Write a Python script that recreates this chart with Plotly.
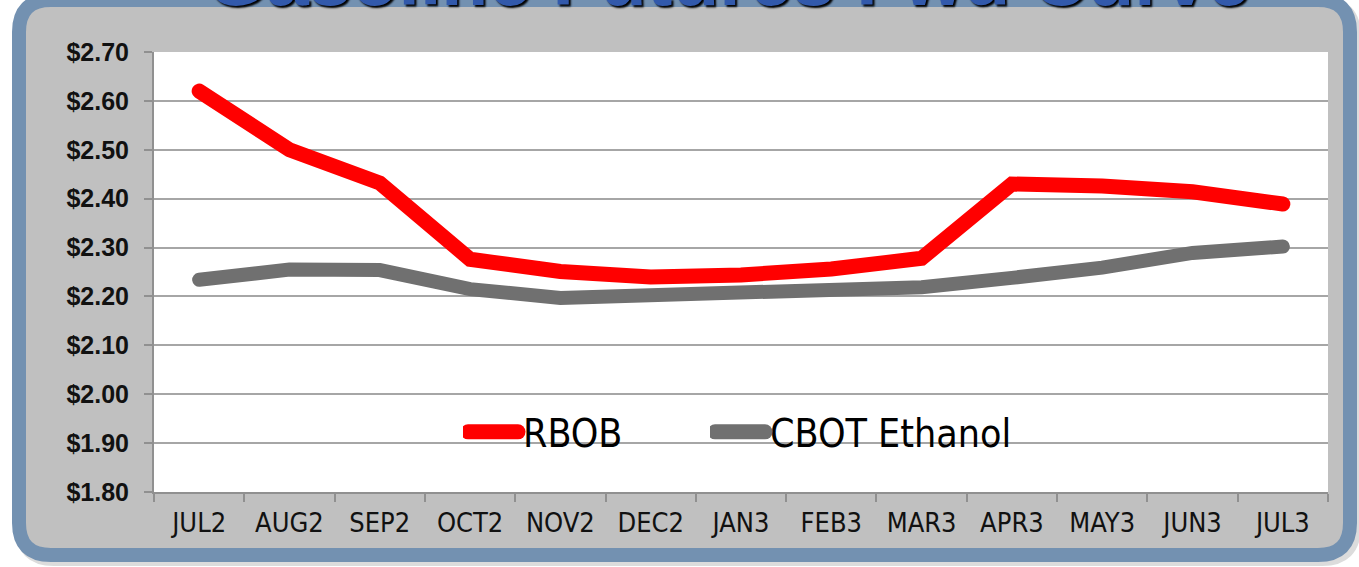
import plotly.graph_objects as go

months = ["JUL2", "AUG2", "SEP2", "OCT2", "NOV2", "DEC2", "JAN3",
          "FEB3", "MAR3", "APR3", "MAY3", "JUN3", "JUL3"]
rbob = [2.620, 2.500, 2.432, 2.276, 2.251, 2.240, 2.244,
        2.256, 2.278, 2.430, 2.426, 2.414, 2.389]
ethanol = [2.234, 2.255, 2.254, 2.215, 2.197, 2.203, 2.213,
           2.216, 2.219, 2.238, 2.259, 2.289, 2.302]
y_ticks = [1.80, 1.90, 2.00, 2.10, 2.20, 2.30, 2.40, 2.50, 2.60, 2.70]
title_text = "Gasoline Futures Fwd Curve"

W, H = 1359, 567
L, R, T, B = 154, 1328, 52, 492


def px(x):
    return (x - L) / (R - L)


def py(y):
    return (B - y) / (B - T)


def rounded_rect(x0, y0, x1, y1, r):
    pts = [
        f"M {px(x0 + r)},{py(y0)}",
        f"L {px(x1 - r)},{py(y0)}",
        f"Q {px(x1)},{py(y0)} {px(x1)},{py(y0 + r)}",
        f"L {px(x1)},{py(y1 - r)}",
        f"Q {px(x1)},{py(y1)} {px(x1 - r)},{py(y1)}",
        f"L {px(x0 + r)},{py(y1)}",
        f"Q {px(x0)},{py(y1)} {px(x0)},{py(y1 - r)}",
        f"L {px(x0)},{py(y0 + r)}",
        f"Q {px(x0)},{py(y0)} {px(x0 + r)},{py(y0)}",
        "Z",
    ]
    return " ".join(pts)


narrow = "DejaVu Sans Condensed, Liberation Sans Narrow, Liberation Sans, Arial, sans-serif"

fig = go.Figure()
fig.add_trace(go.Scatter(
    x=months, y=rbob, name="RBOB", mode="lines",
    line=dict(color="#ff0000", width=15), legend="legend",
))
fig.add_trace(go.Scatter(
    x=months, y=ethanol, name="CBOT Ethanol", mode="lines",
    line=dict(color="#707070", width=14), legend="legend2",
))

shapes = [
    dict(type="path", xref="paper", yref="paper", layer="below",
         path=rounded_rect(22, 4, 1354, 559, 32),
         line=dict(color="#dcdcdc", width=14), fillcolor="rgba(0,0,0,0)"),
    dict(type="path", xref="paper", yref="paper", layer="below",
         path=rounded_rect(19, 0, 1350, 555, 32),
         line=dict(color="#7391b1", width=14), fillcolor="#c0c0c0"),
    dict(type="rect", xref="paper", yref="paper", layer="below",
         x0=0, x1=1, y0=0, y1=1, fillcolor="#ffffff", line=dict(width=0)),
]

leg_common = dict(
    orientation="h", yanchor="middle", xanchor="left", y=py(432),
    font=dict(family=narrow, size=39, color="#000000"),
    bgcolor="rgba(0,0,0,0)", itemwidth=50,
)

fig.update_layout(
    width=W, height=H,
    margin=dict(l=L, r=W - R, t=T, b=H - B, pad=0),
    paper_bgcolor="#ffffff",
    plot_bgcolor="rgba(0,0,0,0)",
    shapes=shapes,
    showlegend=True,
    legend=dict(x=px(463), **leg_common),
    legend2=dict(x=px(710), **leg_common),
    annotations=[dict(
        text=title_text, xref="paper", yref="paper",
        x=px(728), y=py(23), xanchor="center", yanchor="bottom",
        showarrow=False,
        font=dict(family="Liberation Sans, Arial", size=77, color="#3259ab",
                  weight="bold", shadow="2px 2px 2px #000000"),
    )],
    xaxis=dict(
        type="category", range=[-0.5, 12.5], tickson="boundaries",
        ticks="outside", ticklen=8, tickwidth=1.5, tickcolor="#909090",
        showline=True, linecolor="#909090", linewidth=1.5,
        showgrid=False, zeroline=False,
        tickfont=dict(family=narrow, size=27, color="#111111"),
        ticklabelstandoff=6,
    ),
    yaxis=dict(
        range=[1.80, 2.70], tickvals=y_ticks,
        ticktext=[f"${v:.2f}" for v in y_ticks],
        ticks="outside", ticklen=8, tickwidth=1.5, tickcolor="#909090",
        showline=True, linecolor="#909090", linewidth=2,
        showgrid=True, gridcolor="#a6a6a6", gridwidth=1.5, zeroline=False,
        tickfont=dict(family="Liberation Sans, Arial", size=25, color="#111111",
                      weight="bold"),
        ticklabelstandoff=10,
    ),
)

css = (
    "body{margin:0;overflow:hidden}"
    ".scatterlayer path.js-line{stroke-linecap:round}"
    ".legendlines path{stroke-linecap:round;stroke-width:15px !important}"
)
post = (
    "var s=document.createElement('style');s.textContent='" + css + "';"
    "document.head.appendChild(s);"
    "document.body.style.margin='0';document.body.style.overflow='hidden';"
)

fig.write_html("out.html", config={"displayModeBar": False}, post_script=post)
